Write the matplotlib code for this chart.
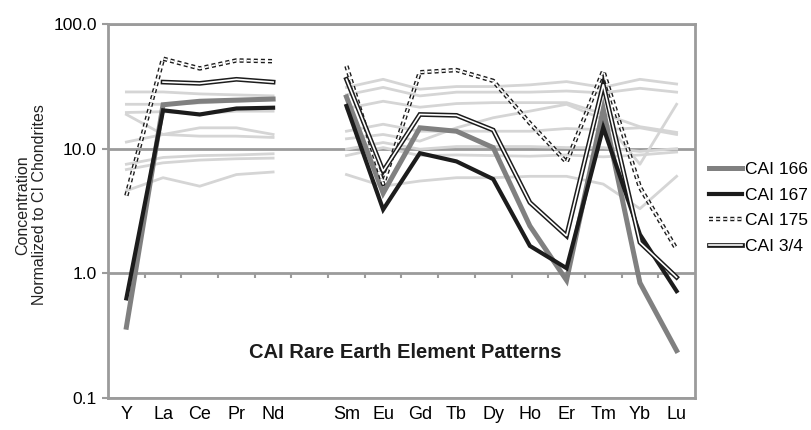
import numpy as np
import matplotlib
matplotlib.use("Agg")
import matplotlib.pyplot as plt
import matplotlib.patheffects as pe
from matplotlib.ticker import FixedLocator, FixedFormatter, NullLocator

plt.rcParams['font.family'] = ['Liberation Sans', 'DejaVu Sans']

nan = np.nan

# elements on the x axis, blank slot where Pm would be
elements = ['Y', 'La', 'Ce', 'Pr', 'Nd', '', 'Sm', 'Eu', 'Gd', 'Tb', 'Dy', 'Ho', 'Er', 'Tm', 'Yb', 'Lu']

cai166 = [0.37, 22.5, 24, 24.5, 25, nan, 26, 4.4, 14.7, 13.8, 10.2, 2.4, 0.88, 20.7, 0.84, 0.24]
cai167 = [0.63, 20.3, 18.8, 21, 21.3, nan, 22, 3.25, 9.2, 7.9, 5.7, 1.66, 1.1, 14.8, 2.05, 0.72]
cai175 = [4.2, 52.7, 44, 51, 50.3, nan, 46, 5.2, 41, 42.7, 35, 16, 7.8, 42, 4.9, 1.56]
cai34 = [nan, 34.2, 33.4, 36, 34.2, nan, 36, 6.6, 18.8, 18.5, 14.1, 3.7, 2.0, 32.8, 1.77, 0.93]

# other CAIs drawn in light grey behind
bg1 = [28.5, 28.5, 27.5, 27, 26.5, nan, 31, 36, 30, 31.5, 31.5, 32.5, 34.5, 31, 36, 33]
bg2 = [22.7, 22.7, 23.3, 24, 24.8, nan, 27, 31, 26.5, 28.4, 28.4, 28.4, 29, 28, 30.5, 28.4]
bg3 = [19.5, 19.8, 19, 20, 20, nan, 21, 24, 21.5, 23, 23.4, 23.4, 23.4, 19, 15, 13.5]
bg4 = [18.8, 13, 12.6, 12.6, 12.3, nan, 12, 13, 11.5, 14.7, 17.7, 20, 22.7, 17.2, 7.5, 22.7]
bg5 = [11.3, 13, 14.7, 14.7, 13, nan, 13.8, 15.7, 13.8, 13.8, 13.8, 13.8, 14.5, 14.2, 14.7, 13]
bg6 = [7.5, 8.5, 8.8, 8.9, 9.1, nan, 9.9, 11.2, 9.9, 10.4, 10.4, 10.4, 10.2, 10.2, 9.5, 10]
bg7 = [6.8, 7.7, 8.1, 8.3, 8.4, nan, 8.8, 10.2, 8.8, 8.9, 8.8, 8.7, 8.9, 8.6, 8.9, 9.4]
bg8 = [4.6, 5.85, 5.0, 6.2, 6.5, nan, 6.2, 5.0, 5.5, 5.85, 5.85, 6.0, 6.0, 5.2, 3.3, 6.0]
background = [bg1, bg2, bg3, bg4, bg5, bg6, bg7, bg8]

ytick_vals = [0.1, 1, 10, 100]
ytick_labels = ['0.1', '1.0', '10.0', '100.0']
x_cross = 1.0  # category axis crosses the value axis here

x = np.arange(len(elements))
axis_grey = '#9b9b9b'

fig = plt.figure(figsize=(8.11, 4.30), dpi=100)
ax = fig.add_axes([0.1332, 0.0744, 0.7237, 0.8698])

for bg in background:
    ax.plot(x, bg, color='#d5d5d5', lw=2.0, zorder=2)

ax.plot(x, cai166, color='#808080', lw=3.6, label='CAI 166', zorder=3,
        solid_joinstyle='miter')
ax.plot(x, cai167, color='#1c1c1c', lw=3.0, label='CAI 167', zorder=4,
        solid_joinstyle='miter')
ax.plot(x, cai175, color='#1c1c1c', lw=3.2, ls=(0, (0.9, 0.7)), label='CAI 175', zorder=5,
        path_effects=[pe.Normal(), pe.Stroke(linewidth=1.2, foreground='white')])
ax.plot(x, cai34, color='#1c1c1c', lw=3.4, label='CAI 3/4', zorder=6,
        solid_joinstyle='miter',
        path_effects=[pe.Normal(), pe.Stroke(linewidth=1.2, foreground='white')])

ax.set_yscale('log')
ax.set_ylim(0.1, 100)
ax.set_xlim(-0.5, len(elements) - 0.5)

ax.yaxis.set_major_locator(FixedLocator(ytick_vals))
ax.yaxis.set_major_formatter(FixedFormatter(ytick_labels))
ax.yaxis.set_minor_locator(NullLocator())
ax.tick_params(axis='y', which='major', length=4, width=1.5, color=axis_grey,
               labelsize=12.5, pad=4)

ax.set_xticks(x)
ax.set_xticklabels(elements)
ax.tick_params(axis='x', length=0, labelsize=13, pad=6)

ax.grid(axis='y', which='major', color=axis_grey, lw=2, zorder=1)
ax.set_axisbelow(True)
for s in ax.spines.values():
    s.set_color(axis_grey)
    s.set_linewidth(2)

# tick marks between categories, hanging below the 1.0 line
ax.vlines(x[:-1] + 0.5, x_cross * 10 ** -0.035, x_cross, color=axis_grey, lw=1.5, zorder=1)

ax.text(0.506, 0.123, 'CAI Rare Earth Element Patterns', transform=ax.transAxes,
        ha='center', va='center', fontsize=14.5, fontweight='bold', color='#1c1c1c')

fig.text(31 / 811, 1 - 205 / 430, 'Concentration\nNormalized to CI Chondrites',
         rotation=90, ha='center', va='center', fontsize=11.5, linespacing=1.1,
         color='#222222')

ax.legend(loc='center left', bbox_to_anchor=(709 / 811, 1 - 208 / 430),
          bbox_transform=fig.transFigure, frameon=False, fontsize=12.5,
          handlelength=1.9, handletextpad=0.2, labelspacing=0.6,
          borderpad=0, borderaxespad=0)

fig.savefig('out.png', dpi=100)
